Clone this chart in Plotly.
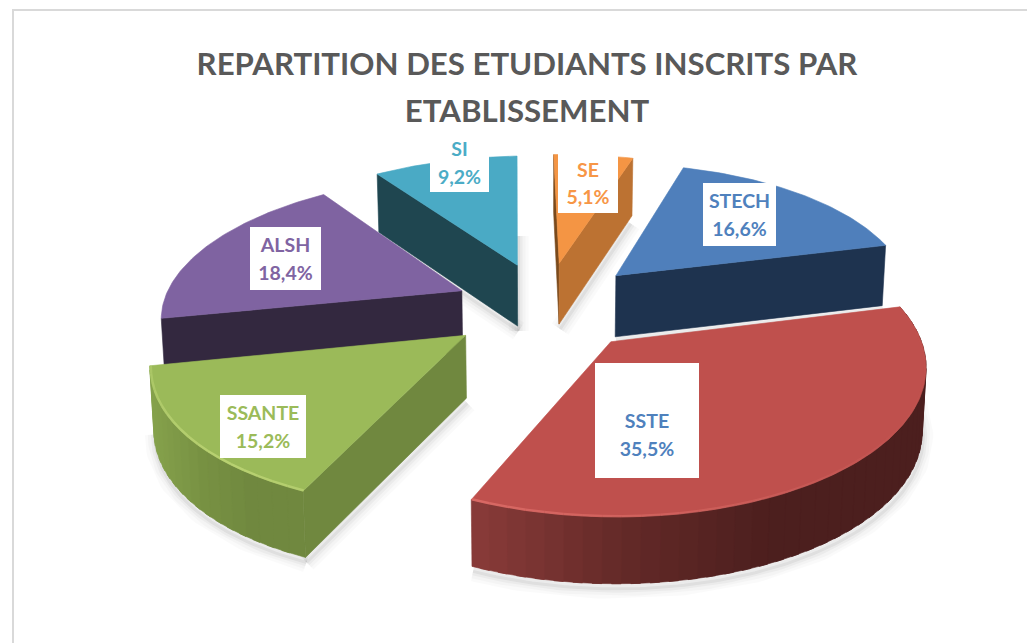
import math
import plotly.graph_objects as go

CATEGORIES = ["SSTE", "SSANTE", "ALSH", "SI", "SE", "STECH"]
VALUES = [35.5, 15.2, 18.4, 9.2, 5.1, 16.6]
TITLE_LINES = ["REPARTITION DES ETUDIANTS INSCRITS PAR", "ETABLISSEMENT"]

TOP_COLORS = {"SSTE": "#BF504D", "SSANTE": "#9BBA59", "ALSH": "#7F63A1",
              "SI": "#4AAAC5", "SE": "#F49544", "STECH": "#4F7FBB"}
LABEL_COLORS = {"SSTE": "#4F81BD", "SSANTE": "#9BBB59", "ALSH": "#8064A2",
                "SI": "#4BACC6", "SE": "#F79646", "STECH": "#4F81BD"}
EDGE_COLORS = {"SI": "#1F4650", "SE": "#BC7232", "STECH": "#1E334F",
               "SSANTE": "#70883F", "ALSH": "#33283F"}
RIM_GRADIENT = {"SSTE": [(138, 60, 58), (100, 42, 40), (76, 31, 30), (76, 31, 30)],
                "SSANTE": [(134, 162, 76), (120, 146, 67), (112, 136, 63), (112, 136, 63)]}
HILITE = {"SSTE": (222, 110, 105), "SSANTE": (190, 214, 118)}
LABEL_BOX = {"SSTE": (595, 699, 363, 478), "SSANTE": (220, 306, 395, 458),
             "ALSH": (250, 321, 227, 290), "SI": (430, 489, 133, 192),
             "SE": (558, 618, 153, 213), "STECH": (703, 776, 183, 246)}
LABEL_LEAD = {"SSTE": "&#160;<br>"}

START_ANGLE = 14.2   # clockwise from here
EXPLODE = {"SSTE": 0.33, "SSANTE": 0.33, "ALSH": 0.31, "SI": 0.33, "SE": 0.33, "STECH": 0.33}
CX, SCALE, K, HORIZON, DEPTH = 546.0, 299.0, 0.15, -606.0, 912.0
SKEW = 6.0
WALL = 62.0


def project(X, Y):
    d = 1 + K * Y
    return CX + SCALE * X / d + SKEW * Y, HORIZON + DEPTH / d


def ground(angle, r, off):
    a = math.radians(angle)
    return off[0] + r * math.cos(a), off[1] + r * math.sin(a)


def top_pt(angle, r, off):
    return project(*ground(angle, r, off))


def bot_pt(angle, r, off):
    X, Y = ground(angle, r, off)
    x, y = project(X, Y)
    return CX + (x - CX) * 0.99, y + WALL / (1 + 0.06 * Y)


def poly(fig, pts, color):
    xs = [p[0] for p in pts] + [pts[0][0]]
    ys = [p[1] for p in pts] + [pts[0][1]]
    fig.add_trace(go.Scatter(x=xs, y=ys, mode="lines", fill="toself", fillcolor=color,
                             line=dict(color=color, width=0.6), hoverinfo="skip",
                             showlegend=False))


def stroke(fig, pts, color, width):
    fig.add_trace(go.Scatter(x=[p[0] for p in pts], y=[p[1] for p in pts], mode="lines",
                             line=dict(color=color, width=width), hoverinfo="skip",
                             showlegend=False))


def shadow(fig, pts):
    moved = [(x + 1, y + 5) for x, y in pts]
    for w, a in ((20, 0.018), (14, 0.025), (8, 0.035), (3, 0.05)):
        stroke(fig, moved, f"rgba(0,0,0,{a})", w)


def arc(a0, a1, step=1.0):
    n = max(2, int(abs(a1 - a0) / step))
    return [a0 + (a1 - a0) * i / n for i in range(n + 1)]


def lerp(stops, t):
    t = min(max(t, 0), 0.9999) * (len(stops) - 1)
    i = int(t)
    f = t - i
    return tuple(stops[i][c] + (stops[i + 1][c] - stops[i][c]) * f for c in range(3))


# slice angles derived from the values
spans = {}
ang = START_ANGLE
for name, v in zip(CATEGORIES, VALUES):
    a_end = ang - v * 3.6
    mid = math.radians((ang + a_end) / 2)
    e = EXPLODE[name]
    spans[name] = (ang, a_end, (e * math.cos(mid), e * math.sin(mid)))
    ang = a_end

fig = go.Figure()


def draw_slice(name):
    a0, a1, off = spans[name]   # a0 = clockwise start (larger angle), a1 = end
    apex_t = project(*off)
    apex_b = bot_pt(0, 0, off)
    angles = arc(a0, a1)

    if name in ("SSTE", "SSANTE"):
        shadow(fig, [bot_pt(a, 1, off) for a in angles])
    if name == "SSANTE":
        shadow(fig, [bot_pt(a0, 1, off), apex_b])
    if name == "SI":
        shadow(fig, [bot_pt(a0, 1, off), apex_b])
        shadow(fig, [apex_b, (apex_b[0], apex_b[1] - 95)])
    if name == "SE":
        shadow(fig, [bot_pt(a1, 0.97, off), apex_b])
    if name == "STECH":
        shadow(fig, [bot_pt(a0, 0, off), bot_pt(a1, 1, off)])

    # radial walls
    if name in ("SI", "SSANTE", "ALSH"):
        poly(fig, [top_pt(a0, 1, off), apex_t, apex_b, bot_pt(a0, 1, off)], EDGE_COLORS[name])
    if name == "SE":
        poly(fig, [top_pt(a0, 1, off), apex_t, apex_b, bot_pt(a0, 1, off)], "#7A4A1C")
        poly(fig, [top_pt(a1, 1, off), apex_t, apex_b, bot_pt(a1, 1, off)], EDGE_COLORS[name])
    if name == "STECH":
        poly(fig, [top_pt(a1, 1, off), apex_t, apex_b, bot_pt(a1, 1, off)], EDGE_COLORS[name])

    # curved front wall with its shading
    if name in RIM_GRADIENT:
        seg = arc(a0, a1, 3.0)
        xs = [top_pt(a, 1, off)[0] for a in seg]
        for p, q in zip(seg[:-1], seg[1:]):
            X = top_pt((p + q) / 2, 1, off)[0]
            t = (X - min(xs)) / (max(xs) - min(xs))
            col = "rgb(%d,%d,%d)" % lerp(RIM_GRADIENT[name], t)
            over = max(q - 1.5, a1)   # overlap the next piece so no seam shows
            poly(fig, [top_pt(p, 1, off), top_pt(over, 1, off),
                       bot_pt(over, 1, off), bot_pt(p, 1, off)], col)

    # top face
    poly(fig, [apex_t] + [top_pt(a, 1, off) for a in angles], TOP_COLORS[name])

    # bevel highlight along the near edge
    if name in HILITE:
        seg = arc(a0, a1, 3.0)
        n = len(seg) - 1
        for i in range(n):
            if name == "SSTE":
                alpha = max(0.0, 0.8 * ((i / n) - 0.35) / 0.65) + 0.05
            else:
                alpha = 0.25 + 0.6 * (1 - abs(i / n - 0.25))
            r, g, b = HILITE[name]
            stroke(fig, [top_pt(seg[i], 0.997, off), top_pt(seg[i + 1], 0.997, off)],
                   f"rgba({r},{g},{b},{alpha:.2f})", 2.5)


for name in ["SI", "SE", "ALSH", "STECH", "SSANTE", "SSTE"]:
    draw_slice(name)

annotations = []
for name, v in zip(CATEGORIES, VALUES):
    x0, x1, y0, y1 = LABEL_BOX[name]
    line2 = f"{v:.1f}%".replace(".", ",")
    txt = f"<span style='font-size:19.5px'>{LABEL_LEAD.get(name, '')}{name}<br>{line2}</span>"
    annotations.append(dict(x=(x0 + x1) / 2, y=(y0 + y1) / 2, xref="x", yref="y",
                            xanchor="center", yanchor="middle", showarrow=False,
                            text=txt, width=x1 - x0, height=y1 - y0, bgcolor="#FFFFFF",
                            align="center", valign="middle", borderpad=0, borderwidth=0,
                            font=dict(family="Lato", size=21.5, color=LABEL_COLORS[name], weight=700)))

title_text = "<span style='font-size:31.2px'>" + "<br>".join(TITLE_LINES) + "</span>"
fig.update_layout(
    width=1027, height=643, autosize=False,
    margin=dict(l=0, r=0, t=0, b=0),
    paper_bgcolor="#FFFFFF", plot_bgcolor="#FFFFFF",
    showlegend=False,
    xaxis=dict(range=[0, 1027], visible=False, fixedrange=True),
    yaxis=dict(range=[643, 0], visible=False, fixedrange=True),
    title=dict(text=title_text, x=527 / 1027, xanchor="center",
               y=1 - 75 / 643, yanchor="top", xref="paper", yref="paper",
               font=dict(family="Lato", size=36, color="#595959", weight=700)),
    annotations=annotations,
    shapes=[dict(type="rect", xref="x", yref="y", x0=13, y0=10, x1=1040, y1=660,
                 line=dict(color="#D9D9D9", width=2), layer="below")],
)

fig.write_html("out.html", config={"displayModeBar": False},
               post_script="document.body.style.margin='0';document.documentElement.style.overflow='hidden';")
